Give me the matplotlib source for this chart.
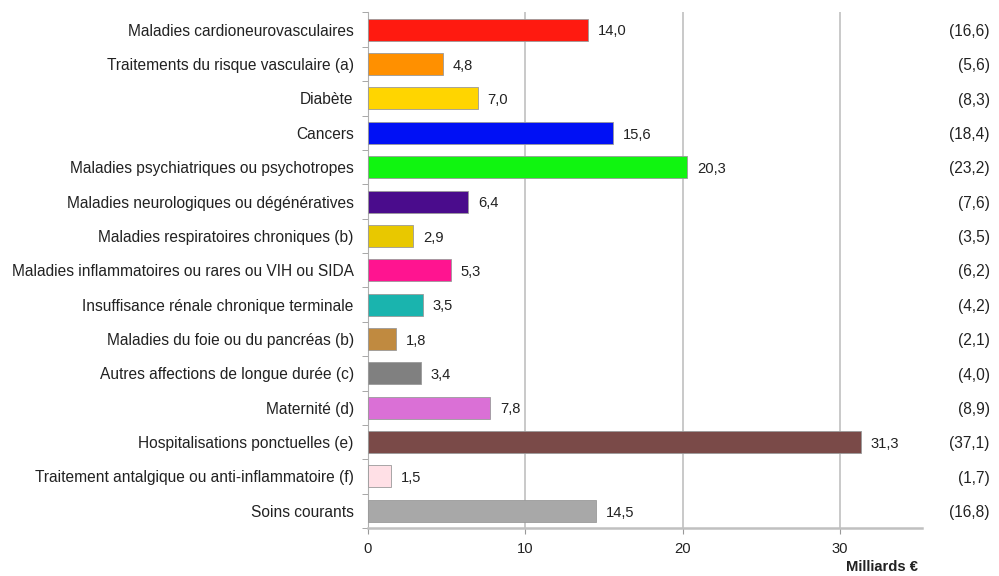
import matplotlib.pyplot as plt

plt.rcParams['font.family'] = ['Liberation Sans', 'DejaVu Sans']

categories = [
    "Maladies cardioneurovasculaires",
    "Traitements du risque vasculaire (a)",
    "Diabète",
    "Cancers",
    "Maladies psychiatriques ou psychotropes",
    "Maladies neurologiques ou dégénératives",
    "Maladies respiratoires chroniques (b)",
    "Maladies inflammatoires ou rares ou VIH ou SIDA",
    "Insuffisance rénale chronique terminale",
    "Maladies du foie ou du pancréas (b)",
    "Autres affections de longue durée (c)",
    "Maternité (d)",
    "Hospitalisations ponctuelles (e)",
    "Traitement antalgique ou anti-inflammatoire (f)",
    "Soins courants",
]
values = [14.0, 4.8, 7.0, 15.6, 20.3, 6.4, 2.9, 5.3, 3.5, 1.8, 3.4, 7.8, 31.3, 1.5, 14.5]
totals = ["(16,6)", "(5,6)", "(8,3)", "(18,4)", "(23,2)", "(7,6)", "(3,5)", "(6,2)",
          "(4,2)", "(2,1)", "(4,0)", "(8,9)", "(37,1)", "(1,7)", "(16,8)"]
colors = ["#FF1a10", "#FF9000", "#FFD500", "#0010F5", "#10F510", "#4A0C8C", "#E8C800",
          "#FF1490", "#1AB4AE", "#C08A40", "#808080", "#DA70D6", "#7A4A48", "#FFE0E6",
          "#A8A8A8"]

fig = plt.figure(figsize=(9.99, 5.76), dpi=100)
ax = fig.add_axes([0.368, 0.0833, 0.555, 0.895])

y = list(range(len(categories)))
ax.barh(y, values, height=0.64, color=colors, edgecolor="#9a9a9a", linewidth=0.6, zorder=3)
ax.set_ylim(len(categories) - 0.5, -0.5)
ax.set_xlim(0, 35.2)

for i, v in enumerate(values):
    ax.text(v + 0.6, i + 0.05, f"{v:.1f}".replace(".", ","), va="center", ha="left",
            fontsize=10.6, color="#222222")
    ax.text(1.122, i + 0.05, totals[i], transform=ax.get_yaxis_transform(),
            va="center", ha="right", fontsize=11.2, color="#222222")

ax.set_yticks(y)
ax.set_yticklabels(categories, fontsize=11.2, color="#222222")
for lbl in ax.get_yticklabels():
    lbl.set_y(lbl.get_position()[1])
ax.set_yticks([i - 0.5 for i in range(len(categories) + 1)], minor=True)
ax.tick_params(axis="y", which="major", length=0, pad=10)
ax.tick_params(axis="y", which="minor", length=4, color="#999999", direction="out")

ax.set_xticks([0, 10, 20, 30])
ax.tick_params(axis="x", length=4, color="#999999", labelsize=10.6, labelcolor="#222222", pad=6)
ax.grid(axis="x", color="#c0c0c0", linewidth=1.2, zorder=0)

for s in ["top", "right"]:
    ax.spines[s].set_visible(False)
ax.spines["left"].set_color("#b0b0b0")
ax.spines["bottom"].set_color("#c0c0c0")
ax.spines["bottom"].set_linewidth(1.8)

fig.text(0.919, 0.016, "Milliards €", ha="right", va="center", fontsize=10.6,
         fontweight="bold", color="#222222")

fig.savefig("out.png", dpi=100)
